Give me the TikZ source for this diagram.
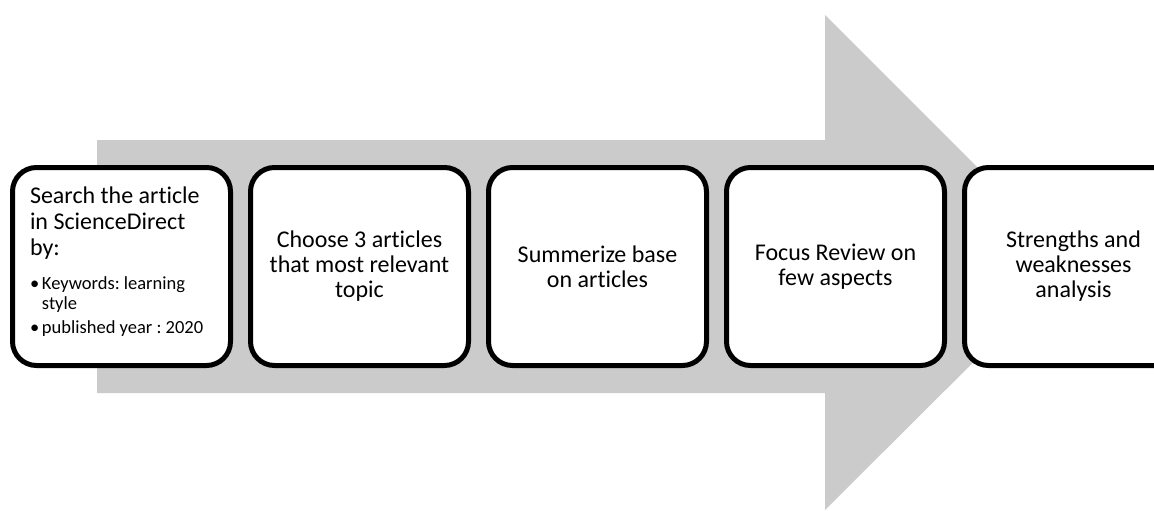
\documentclass[tikz,border=0pt]{standalone}
\usepackage{fontspec}
\setmainfont{Carlito}[Ligatures=NoCommon]
\usepackage{tikz}
\usetikzlibrary{positioning}
\usepackage{xcolor}
\definecolor{arrowgray}{HTML}{CBCBCB}
\definecolor{boxline}{HTML}{000000}

\tikzset{
  stepbox/.style={draw=boxline,fill=white,line width=5pt,rounded corners=24pt,
    minimum width=218pt,minimum height=198pt,text width=200pt,align=flush center,
    inner sep=0pt,font=\frenchspacing\fontsize{24}{25}\selectfont},
}
\newcommand{\stepitem}{\makebox[12pt][l]{\textbullet}}

\begin{document}
\begin{tikzpicture}[x=1pt,y=-1pt]
    \useasboundingbox (0,0) rectangle (1154,511);
    % big process arrow behind the steps
    \fill[arrowgray] (97,140) -- (825,140) -- (825,15) -- (1073,263) -- (825,510) -- (825,393) -- (97,393) -- cycle;
    \node[stepbox,align=flush left,text width=183pt] (s1) at (121.5,266.5) {\fontsize{24}{26}\selectfont
      Search the article\\ in ScienceDirect\\ by:\par\vspace{14pt}
      {\fontsize{18.5}{20}\selectfont \stepitem Keywords: learning\\ \hspace*{12pt}style\par\vspace{4pt}
       \stepitem published year : 2020\par}\nointerlineskip\vspace*{10pt}\noindent\mbox{}};
    \node[stepbox,right=15pt of s1] (s2) {Choose 3 articles\\ that most relevant\\ topic};
    \node[stepbox,right=15pt of s2] (s3) {Summerize base\\ on articles};
    \node[stepbox,right=15pt of s3] (s4) {Focus Review on\\ few aspects};
    \node[stepbox,right=15pt of s4] (s5) {Strengths and\\ weaknesses\\ analysis};
  \end{tikzpicture}
\end{document}
